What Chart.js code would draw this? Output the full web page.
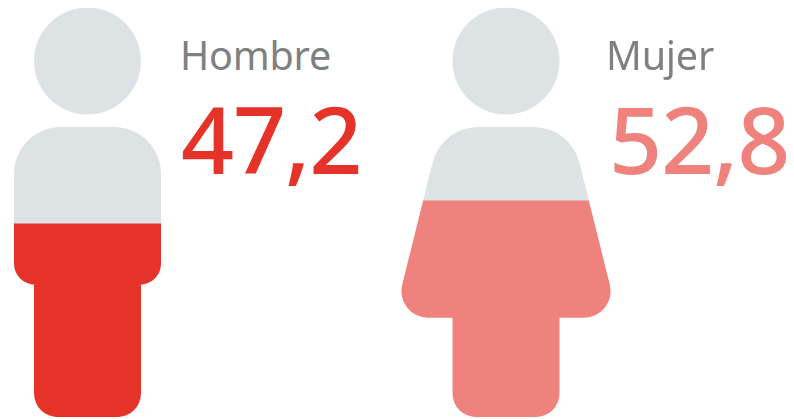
<!DOCTYPE html>
<html lang="es">
<head>
<meta charset="utf-8">
<title>Hombre / Mujer</title>
<script src="https://cdn.jsdelivr.net/npm/chart.js@4"></script>
<style>
  html, body { margin: 0; padding: 0; background: #fff; width: 794px; height: 419px; overflow: hidden; }
  body { position: relative; font-family: "Noto Sans", "Open Sans", sans-serif; }
  .figure { position: absolute; top: 0; height: 419px; }
  #figure-man { left: 0; width: 175px; }
  #figure-woman { left: 390px; width: 232px; }
  .label, .value { position: absolute; white-space: nowrap; line-height: 1; }
  .label { color: #808080; font-size: 39.5px; font-weight: 400; top: 36px; letter-spacing: -0.2px; }
  .value { font-size: 93px; font-weight: 500; top: 92px; letter-spacing: -1.2px; }
  #label-man { left: 180px; }
  #value-man { left: 181px; }
  #label-woman { left: 606px; }
  #value-woman { left: 609px; }
</style>
</head>
<body>
<div class="figure" id="figure-man"><canvas id="chart-man"></canvas></div>
<div class="figure" id="figure-woman"><canvas id="chart-woman"></canvas></div>
<div class="label" id="label-man"></div>
<div class="value" id="value-man"></div>
<div class="label" id="label-woman"></div>
<div class="value" id="value-woman"></div>

<script>
const categories = ['Hombre', 'Mujer'];
const values = [47.2, 52.8];
const fillColors = ['#e63329', '#f0827d'];
const emptyColor = '#dde3e5';

// silueta comun: cabeza y piernas, el cuerpo cambia
function traceHead(ctx, cx, top) {
  ctx.moveTo(cx + 53.5, top + 53.5);
  ctx.arc(cx, top + 53.5, 53.5, 0, Math.PI * 2);
}

function traceBody(ctx, cx, top, bottom, topHalf, bottomHalf, topRadius, bottomRadius) {
  const bodyTop = top + 119.5;
  const bodyBottom = bottom - (topHalf === bottomHalf ? 132.5 : 99.5);
  const legHalf = 53.5;
  const legRadius = 24;

  ctx.moveTo(cx, bodyTop);
  ctx.arcTo(cx + topHalf, bodyTop, cx + bottomHalf, bodyBottom, topRadius);
  ctx.arcTo(cx + bottomHalf, bodyBottom, cx + legHalf, bodyBottom, bottomRadius);
  ctx.lineTo(cx + legHalf, bodyBottom);
  ctx.arcTo(cx + legHalf, bottom, cx, bottom, legRadius);
  ctx.arcTo(cx - legHalf, bottom, cx - legHalf, bodyBottom, legRadius);
  ctx.lineTo(cx - legHalf, bodyBottom);
  ctx.arcTo(cx - bottomHalf, bodyBottom, cx - topHalf, bodyTop, bottomRadius);
  ctx.arcTo(cx - topHalf, bodyTop, cx, bodyTop, topRadius);
  ctx.closePath();
}

const manShape = { topHalf: 73.5, bottomHalf: 73.5, topRadius: 47, bottomRadius: 21 };
const womanShape = { topHalf: 64.6, bottomHalf: 112, topRadius: 47, bottomRadius: 26.5 };

// recorta las barras con la silueta
const silhouetteClip = {
  id: 'silhouetteClip',
  beforeDatasetsDraw(chart, args, opts) {
    const { ctx, chartArea } = chart;
    const cx = (chartArea.left + chartArea.right) / 2;
    const s = opts.shape;
    ctx.save();
    ctx.beginPath();
    traceHead(ctx, cx, chartArea.top);
    traceBody(ctx, cx, chartArea.top, chartArea.bottom, s.topHalf, s.bottomHalf, s.topRadius, s.bottomRadius);
    ctx.clip();
  },
  afterDatasetsDraw(chart) {
    chart.ctx.restore();
  },
};

function makeFigure(canvasId, index, shape, sidePadding) {
  return new Chart(document.getElementById(canvasId), {
    type: 'bar',
    data: {
      labels: [categories[index]],
      datasets: [
        { label: categories[index], data: [values[index]], backgroundColor: fillColors[index] },
        { label: 'Resto', data: [100 - values[index]], backgroundColor: emptyColor },
      ],
    },
    options: {
      responsive: true,
      maintainAspectRatio: false,
      animation: false,
      barPercentage: 1,
      categoryPercentage: 1,
      layout: { padding: { top: 7.5, bottom: 1.8, left: sidePadding, right: sidePadding } },
      scales: {
        x: { stacked: true, display: false },
        y: { stacked: true, display: false, min: 0, max: 100 },
      },
      plugins: {
        legend: { display: false },
        tooltip: { enabled: false },
        silhouetteClip: { shape },
      },
    },
    plugins: [silhouetteClip],
  });
}

makeFigure('chart-man', 0, manShape, 10);
makeFigure('chart-woman', 1, womanShape, 8);

function formatValue(v) {
  return v.toFixed(1).replace('.', ',');
}

['man', 'woman'].forEach((key, i) => {
  document.getElementById('label-' + key).textContent = categories[i];
  const el = document.getElementById('value-' + key);
  el.textContent = formatValue(values[i]);
  el.style.color = fillColors[i];
});
</script>
</body>
</html>
